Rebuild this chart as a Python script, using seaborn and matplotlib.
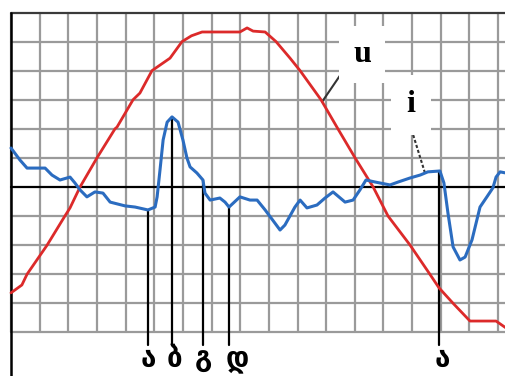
import numpy as np
import pandas as pd
import matplotlib.pyplot as plt
import seaborn as sns

# grid units: x = cells from left border, y = cells from the black zero line
u_x = [0.00, 0.38, 0.56, 1.26, 1.88, 2.06, 2.41, 3.00, 3.63, 3.70, 4.26, 4.50, 4.92,
       5.55, 5.97, 6.30, 6.67, 7.99, 8.24, 8.45, 8.87, 9.25, 9.74, 10.09, 10.82,
       11.41, 12.01, 12.64, 13.16, 13.93, 14.62, 14.94, 15.43, 16.02, 16.93, 17.28]
u_y = [-3.64, -3.37, -3.00, -2.00, -1.00, -0.72, 0.00, 1.00, 2.00, 2.06, 3.00, 3.23, 4.00,
       4.43, 5.00, 5.20, 5.33, 5.33, 5.47, 5.36, 5.33, 5.00, 4.43, 4.00, 3.00,
       2.00, 1.00, 0.00, -1.00, -2.00, -3.00, -3.47, -4.00, -4.61, -4.61, -4.85]

i_x = [0.00, 0.31, 0.56, 1.19, 1.43, 1.71, 2.06, 2.23, 2.41, 2.65, 2.93, 3.21, 3.46,
       3.98, 4.33, 4.78, 5.03, 5.10, 5.20, 5.31, 5.45, 5.62, 5.83, 6.00, 6.14, 6.25,
       6.49, 6.70, 6.77, 6.95, 7.29, 7.47, 7.61, 7.99, 8.34, 8.59, 8.87, 9.21, 9.39,
       9.56, 9.91, 10.09, 10.33, 10.68, 10.96, 11.24, 11.66, 11.94, 12.18, 12.39,
       12.71, 13.23, 13.51, 13.93, 14.28, 14.55, 14.97, 15.11, 15.25, 15.43, 15.67,
       15.85, 16.09, 16.37, 16.61, 16.82, 16.93, 17.07, 17.28]
i_y = [1.34, 0.93, 0.65, 0.65, 0.41, 0.24, 0.34, 0.14, -0.10, -0.34, -0.17, -0.21, -0.52,
       -0.65, -0.69, -0.79, -0.69, -0.34, 0.58, 1.62, 2.23, 2.41, 2.23, 1.62, 1.00, 0.69,
       0.48, 0.24, -0.21, -0.45, -0.38, -0.52, -0.69, -0.34, -0.45, -0.45, -0.79, -1.24, -1.48,
       -1.31, -0.69, -0.45, -0.72, -0.62, -0.38, -0.17, -0.52, -0.45, -0.10, 0.24,
       0.17, 0.07, 0.17, 0.31, 0.41, 0.52, 0.55, 0.14, -0.89, -2.06, -2.51,
       -2.41, -1.82, -0.69, -0.34, -0.03, 0.34, 0.52, 0.48]

mark_x = [4.78, 5.62, 6.70, 7.61, 14.94]
mark_labels = ['ა', 'ბ', 'გ', 'დ', 'ა']
label_dx = [0.0, 0.1, 0.0, 0.3, 0.1]

RED = '#dc2a2a'
BLUE = '#2b6cc0'

sns.set_theme(style='white')

fig = plt.figure(figsize=(5.06, 3.76), dpi=100)
ax = fig.add_axes([0, 0, 1, 1])
ax.set_xlim(-0.384, 17.277)
ax.set_ylim(-6.50, 6.43)
ax.axis('off')

# сетка
for gx in range(0, 18):
    ax.plot([gx, gx], [-5, 6], color='#9a9a9a', lw=1.6, zorder=1)
for gy in range(-5, 6):
    if gy == 0:
        continue
    ax.plot([0, 17.3], [gy, gy], color='#9a9a9a', lw=1.6, zorder=1)
ax.plot([0, 17.3], [6, 6], color='#3a3a3a', lw=1.6, zorder=2)
ax.plot([0, 17.3], [0, 0], color='black', lw=1.6, zorder=2)
ax.plot([0, 0], [-6.5, 6], color='black', lw=1.8, zorder=2)

# curves
u_df = pd.DataFrame({'x': u_x, 'y': u_y})
i_df = pd.DataFrame({'x': i_x, 'y': i_y})
sns.lineplot(data=u_df, x='x', y='y', estimator=None, sort=False, color=RED, lw=2.0, ax=ax, zorder=5)
sns.lineplot(data=i_df, x='x', y='y', estimator=None, sort=False, color=BLUE, lw=2.2, ax=ax, zorder=6)

# marker lines and labels
for mx, lab, dx in zip(mark_x, mark_labels, label_dx):
    top = np.interp(mx, i_x, i_y)
    ax.plot([mx, mx], [top, -5.43], color='black', lw=1.6, zorder=4)
    ax.text(mx + dx, -5.92, lab, ha='center', va='center', fontsize=20,
            fontweight='bold', family=['DejaVu Sans', 'DejaVu Serif'], color='black')

# u / i labels with leaders
ax.plot([11.73, 10.86], [4.19, np.interp(10.86, u_x, u_y)], color='#333333', lw=1.5, zorder=4)
ax.plot([13.93, 14.45], [2.13, np.interp(14.45, i_x, i_y)], color='#333333', lw=1.5,
        ls=(0, (1.5, 1)), zorder=4)
ax.text(12.25, 4.55, 'u', ha='center', va='center', fontsize=23, fontweight='bold',
        family='Liberation Serif', color='black', zorder=7,
        bbox=dict(facecolor='white', edgecolor='none', pad=10))
ax.text(13.96, 2.82, 'i', ha='center', va='center', fontsize=23, fontweight='bold',
        family='Liberation Serif', color='black', zorder=7,
        bbox=dict(facecolor='white', edgecolor='none', pad=11))

plt.savefig('out.png', dpi=100)
